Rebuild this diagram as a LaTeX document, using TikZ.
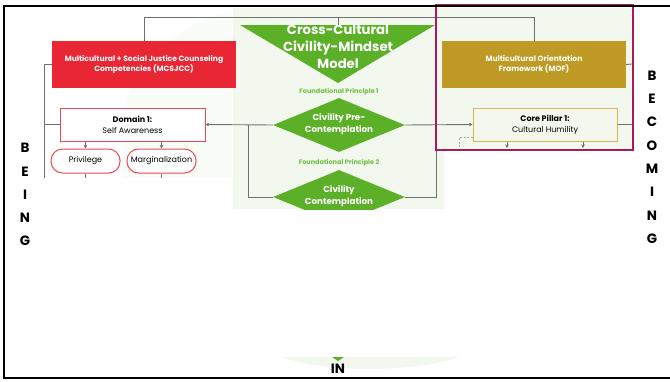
\documentclass[tikz,border=0pt]{standalone}
\usepackage{fontspec}
\setmainfont{Poppins}
\usetikzlibrary{shapes.geometric,arrows.meta}

\definecolor{leafgreen}{RGB}{92,176,40}
\definecolor{labelgreen}{RGB}{112,190,70}
\definecolor{paleback}{RGB}{242,248,237}
\definecolor{mcsred}{RGB}{232,38,52}
\definecolor{pinkedge}{RGB}{234,72,84}
\definecolor{mofgold}{RGB}{191,154,36}
\definecolor{pillaredge}{RGB}{214,182,86}
\definecolor{pillarfill}{RGB}{244,248,236}
\definecolor{framemag}{RGB}{172,24,92}
\definecolor{linkgray}{RGB}{112,112,112}

\tikzset{
  headbox/.style={rectangle, minimum width=184pt, minimum height=47pt, inner sep=0pt,
    text=white, align=center, font=\fontsize{7.6}{10}\selectfont\bfseries},
  itembox/.style={rectangle, line width=1pt, minimum height=33pt, inner sep=0pt,
    align=center, font=\fontsize{8}{11}\selectfont},
  pillbox/.style={rectangle, draw=pinkedge, fill=white, line width=1pt, rounded corners=11.5pt,
    minimum width=69pt, minimum height=24pt, inner sep=0pt, font=\fontsize{8}{10}\selectfont},
  stagediamond/.style={diamond, fill=leafgreen, minimum width=132pt, minimum height=54pt,
    inner sep=0pt, aspect=2.44},
  stagetext/.style={text=white, align=center, font=\fontsize{8.7}{11.5}\selectfont\bfseries},
  principle/.style={text=labelgreen, font=\fontsize{6.5}{8}\selectfont\bfseries},
  link/.style={draw=linkgray, line width=0.9pt},
  arrowlink/.style={link, -{Stealth[length=3.5pt,width=3.5pt]}},
  sideletter/.style={font=\fontsize{13.5}{13.5}\selectfont\bfseries, inner sep=0pt},
}

\begin{document}
\begin{tikzpicture}[x=1pt, y=-1pt]
\useasboundingbox (0,0) rectangle (670,381);

% soft background wash
\fill[paleback!45] (233,12) .. controls (180,20) and (140,60) .. (125,100)
  -- (122,178) -- (233,178) -- cycle;
\fill[paleback] (233,8) -- (633,8) -- (633,150) -- (444,150) -- (444,209) -- (233,209) -- cycle;
\fill[paleback] (280,357) .. controls (330,373) and (410,373) .. (460,357) -- cycle;
\fill[leafgreen] (332,357) -- (344,357) -- (338,361) -- cycle;

% model triangle
\fill[leafgreen] (240,25) -- (435,25) -- (338,83) -- cycle;
\coordinate (tritop) at (338,25);
\node[text=white, align=center, font=\fontsize{13.2}{17}\selectfont\bfseries] (title) at (338,47)
  {Cross-Cultural\\Civility-Mindset\\Model};

% framework heads
\node[headbox, fill=mcsred] (mcs) at (144,64.5)
  {Multicultural + Social Justice Counseling\\Competencies (MCSJCC)};
\node[headbox, fill=mofgold] (mof) at (534,64.5)
  {Multicultural Orientation\\Framework (MOF)};

% second-level boxes
\node[itembox, draw=pinkedge, fill=white, minimum width=145pt] (domain) at (132.5,124.5)
  {\textbf{Domain 1:}\\Self Awareness};
\node[itembox, draw=pillaredge, fill=pillarfill, minimum width=144pt] (pillar) at (545,124.5)
  {\textbf{Core Pillar 1:}\\Cultural Humility};
\node[pillbox] (privilege) at (85.5,161) {Privilege};
\node[pillbox] (margin) at (161.5,161) {Marginalization};

% principles and stages
\node[principle] (fp1) at (339,92) {Foundational Principle 1};
\node[principle] (fp2) at (339,163) {Foundational Principle 2};
\node[stagediamond] (dia1) at (339,125) {};
\node[stagetext] (dia1text) at (339,124) {Civility Pre-\\Contemplation};
\begin{scope}
  \clip (0,0) rectangle (670,209);
  \node[stagediamond] (dia2) at (339,197) {};
\end{scope}
\node[stagetext] (dia2text) at (339,196) {Civility\\Contemplation};

% connector end points
\coordinate (bus) at (338,17);
\coordinate (leftrail) at (44,178);
\coordinate (leftjoin) at (248,125);
\coordinate (rightjoin) at (436,150);
\coordinate (rightrail) at (632,64);
\coordinate (pillarleft) at (507,148);
\coordinate (pillarright) at (583,148);
\coordinate (dashend) at (459,150);

% connectors
\draw[link] (mcs.north) |- (mof.north |- bus) -- (mof.north);
\draw[link] (bus) -- (tritop);
\draw[link] (mcs.west) -| (leftrail);
\draw[link] (domain.west) -- (domain.west -| leftrail);
\draw[arrowlink] (dia1.west) -- (domain.east);
\draw[arrowlink] (dia1.east) -- (pillar.west);
\draw[link] (dia2.west) -| (leftjoin);
\draw[link] (dia2.east) -| (rightjoin);
\draw[arrowlink] (domain.south -| privilege.north) -- (privilege.north);
\draw[arrowlink] (domain.south -| margin.north) -- (margin.north);
\draw[link] (privilege.south) -- (privilege.south |- leftrail);
\draw[link] (margin.south) -- (margin.south |- leftrail);
\draw[link] (mof.east) -- (rightrail);
\draw[link] (pillar.east) -- (pillar.east -| rightrail);
\draw[arrowlink] (pillar.south -| pillarleft) -- (pillarleft);
\draw[arrowlink] (pillar.south -| pillarright) -- (pillarright);
\draw[linkgray!60, line width=0.8pt, dashed, dash pattern=on 2pt off 1.5pt]
  ([yshift=4pt]pillar.south west) -| (dashend);

% MOF highlight frame
\draw[framemag, line width=2.2pt] (436,5) rectangle (633,150);

% side captions
\foreach \ch [count=\i from 0] in {B,E,I,N,G}
  \node[sideletter] (being\i) at (25,148+23.3*\i) {\ch};
\foreach \ch [count=\i from 0] in {B,E,C,O,M,I,N,G}
  \node[sideletter] (becoming\i) at (652,75.5+23.3*\i) {\ch};
\node[sideletter] (in) at (338,369) {IN};

% outer frame
\draw[black, line width=2pt] (670,5.5) -- (4,5.5) -- (4,378) -- (670,378);
\end{tikzpicture}
\end{document}
